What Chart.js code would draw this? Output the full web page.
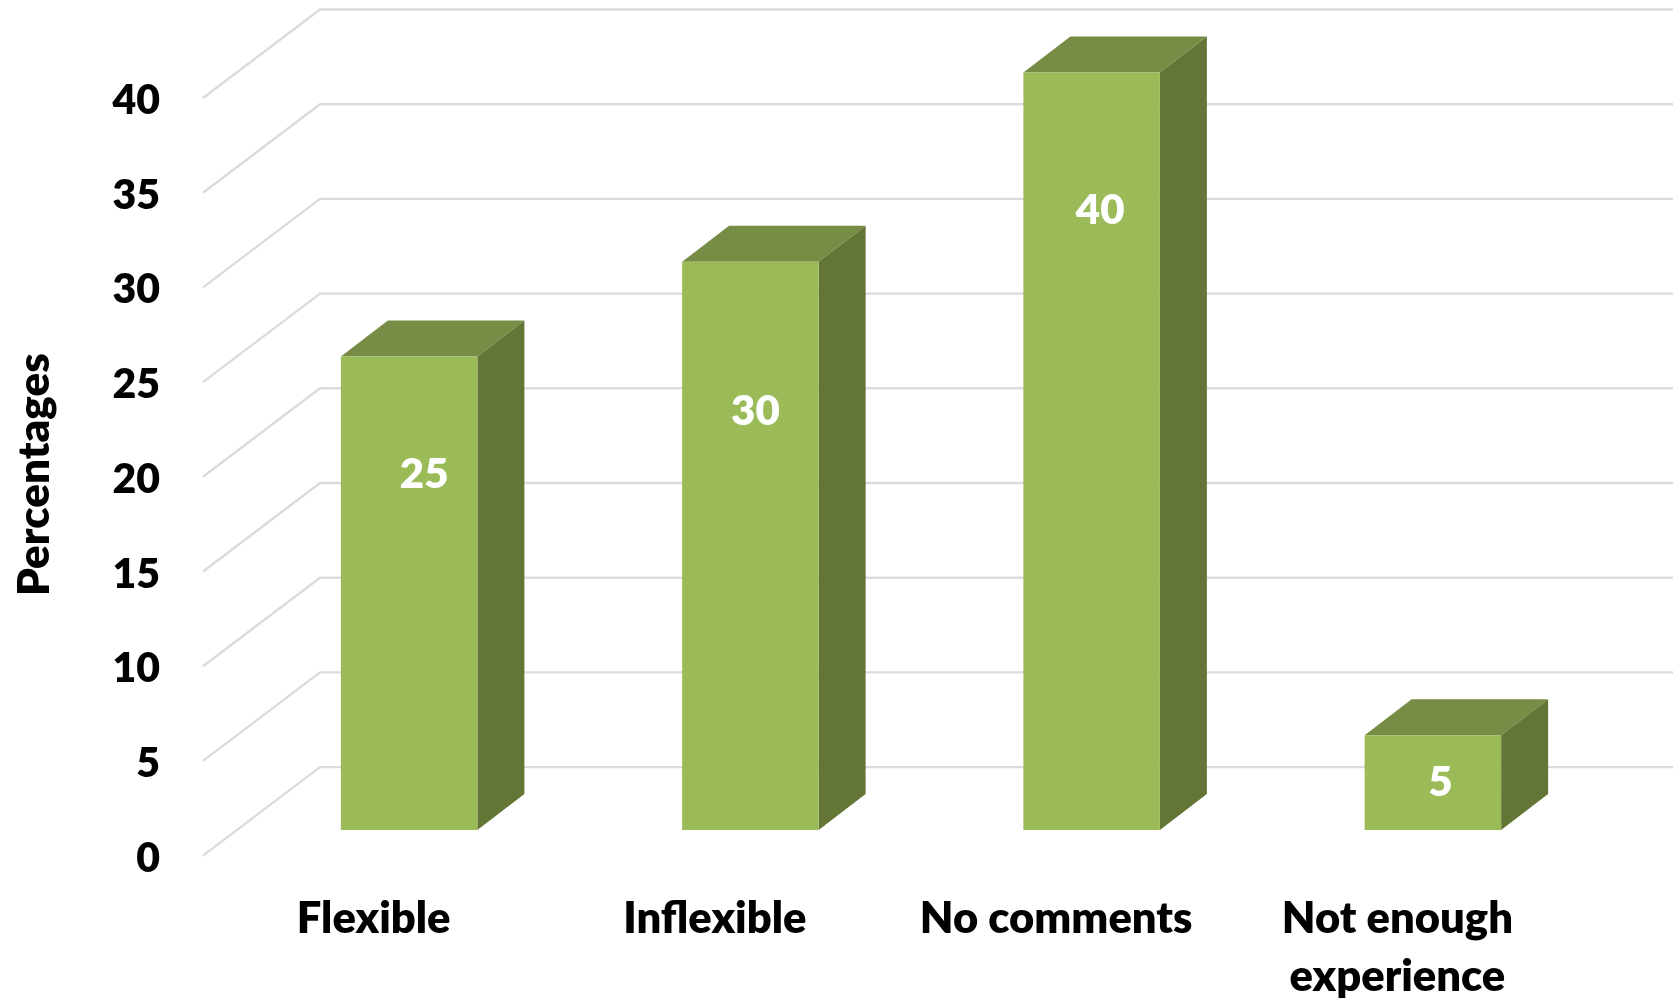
<!DOCTYPE html>
<html>
<head>
<meta charset="utf-8">
<style>html,body{margin:0;padding:0;background:#fff}canvas{display:block}</style>
<script src="https://cdn.jsdelivr.net/npm/chart.js@4"></script>
</head>
<body>
<div style="position:relative;width:1673px;height:1001px"><canvas id="c"></canvas></div>
<script>
const categories = ["Flexible", "Inflexible", "No comments", ["Not enough", "experience"]];
const percentages = [25, 30, 40, 5];
const yTicks = [0, 5, 10, 15, 20, 25, 30, 35, 40];
const axisTitle = "Percentages";

// picture geometry (the fake 3-D projection), kept apart from the data
const tickShift = 2.8;
const wall = {dx: 117, dy: -88.5, right: 1673};
const barPlane = {dx: 35.5, dy: -25.6};
const depth = {dx: 47, dy: -36};
const labelNudgeX = [15, 5, 8.5, 7.5];
const labelNudgeY = [116, 148, 136, 45];
const titleNudge = {x: -2, y: -5};
const FONT = "Lato, Carlito, 'Open Sans', sans-serif";
const WEIGHT = 800;

const pseudo3d = {
  id: "pseudo3d",
  beforeDatasetsDraw(chart) {
    const {ctx, scales: {y}} = chart;
    const left = chart.chartArea.left;
    ctx.save();
    ctx.strokeStyle = "#DBDBDB";
    ctx.lineWidth = 2.4;
    ctx.lineJoin = "round";
    yTicks.forEach(v => {
      const py = y.getPixelForValue(v) - tickShift;
      ctx.beginPath();
      ctx.moveTo(left, py);
      ctx.lineTo(left + wall.dx, py + wall.dy);
      ctx.lineTo(wall.right, py + wall.dy);
      ctx.stroke();
    });
    chart.getDatasetMeta(0).data.forEach(el => {
      const p = el.getProps(["x", "y", "base", "width"], true);
      const l = p.x - p.width / 2 + barPlane.dx, r = p.x + p.width / 2 + barPlane.dx;
      const t = p.y - tickShift + barPlane.dy, b = p.base - tickShift + barPlane.dy;
      ctx.fillStyle = "#778C45";
      ctx.beginPath();
      ctx.moveTo(l, t); ctx.lineTo(l + depth.dx, t + depth.dy);
      ctx.lineTo(r + depth.dx, t + depth.dy); ctx.lineTo(r, t);
      ctx.closePath(); ctx.fill();
      ctx.fillStyle = "#647636";
      ctx.beginPath();
      ctx.moveTo(r, t); ctx.lineTo(r + depth.dx, t + depth.dy);
      ctx.lineTo(r + depth.dx, b + depth.dy); ctx.lineTo(r, b);
      ctx.closePath(); ctx.fill();
    });
    ctx.restore();
    ctx.save();
    ctx.translate(barPlane.dx, barPlane.dy - tickShift);
  },
  afterDatasetsDraw(chart) {
    const {ctx} = chart;
    ctx.restore();
    ctx.save();
    ctx.fillStyle = "#FFFFFF";
    ctx.font = WEIGHT + " 42px " + FONT;
    ctx.textAlign = "center";
    ctx.textBaseline = "middle";
    chart.getDatasetMeta(0).data.forEach((el, i) => {
      const p = el.getProps(["x", "y"], true);
      ctx.fillText(String(percentages[i]),
        p.x + barPlane.dx + labelNudgeX[i],
        p.y + barPlane.dy - tickShift + 2 + labelNudgeY[i]);
    });
    ctx.restore();
  }
};

new Chart(document.getElementById("c"), {
  type: "bar",
  data: {
    labels: categories,
    datasets: [{
      data: percentages,
      backgroundColor: "#9BBB59",
      borderWidth: 0,
      barPercentage: 0.8,
      categoryPercentage: 0.5,
      clip: false
    }]
  },
  plugins: [pseudo3d],
  options: {
    responsive: true,
    maintainAspectRatio: false,
    animation: false,
    events: [],
    layout: {padding: {top: 100.8, right: 105, left: 0, bottom: 0}},
    plugins: {legend: {display: false}, tooltip: {enabled: false}},
    scales: {
      x: {
        grid: {display: false, drawTicks: false},
        border: {display: false},
        ticks: {
          color: "#000",
          font: {family: FONT, weight: WEIGHT, size: 43.5, lineHeight: 1.345},
          padding: 31,
          maxRotation: 0, minRotation: 0, autoSkip: false
        },
        afterFit(s) { s.height = 142.6; }
      },
      y: {
        min: 0, max: 40,
        grid: {display: false, drawTicks: false},
        border: {display: false},
        title: {
          display: true, text: axisTitle, color: "#000",
          font: {family: FONT, weight: WEIGHT, size: 44},
          padding: {top: 10, bottom: 0}
        },
        ticks: {
          color: "#000", stepSize: 5, padding: 43,
          font: {family: FONT, weight: WEIGHT, size: 41}
        },
        afterFit(s) {
          s.width = 203;
          if (!s._titleNudged) {
            s._titleNudged = true;
            const draw = s.drawTitle;
            s.drawTitle = function () {
              s.ctx.save();
              s.ctx.translate(titleNudge.x, titleNudge.y);
              draw.call(s);
              s.ctx.restore();
            };
          }
        }
      }
    }
  }
});
</script>
</body>
</html>
